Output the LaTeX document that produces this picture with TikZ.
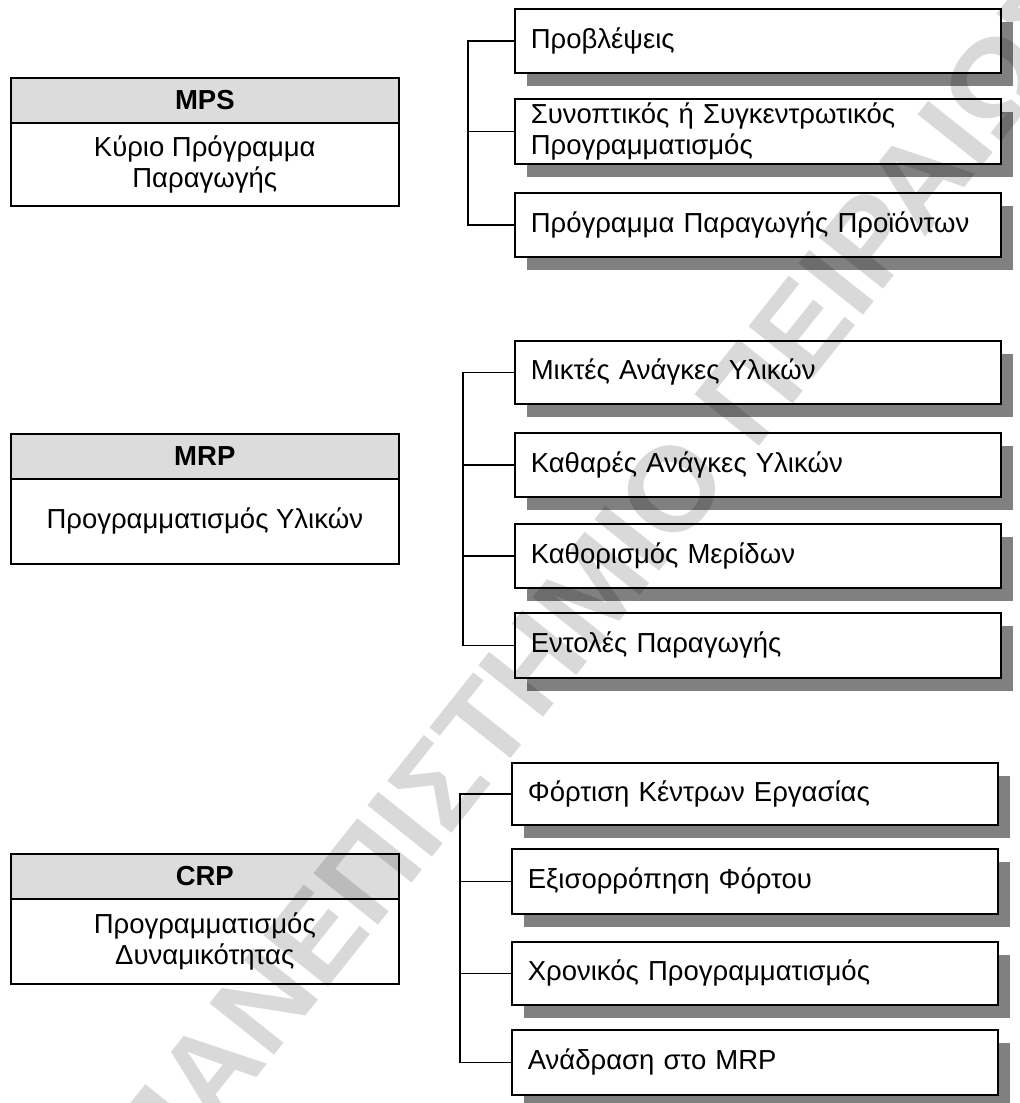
\documentclass[tikz,border=0pt]{standalone}
\usepackage{fontspec}
\setmainfont{Liberation Sans}
\usetikzlibrary{shadows}
\definecolor{shadowgray}{RGB}{128,128,128}
\definecolor{headgray}{RGB}{220,220,220}
\tikzset{
  x=1pt, y=-1pt,
  every node/.style={font=\fontsize{27.5}{31}\selectfont},
  rbox/.style={draw, line width=1.6pt, fill=white, anchor=north west,
    align=left, text width=454pt, inner xsep=16pt, inner ysep=0pt,
    drop shadow={shadow xshift=12pt, shadow yshift=-13pt,
      fill=shadowgray, opacity=1}},
  headbox/.style={draw, line width=1.6pt, fill=headgray, anchor=north west,
    minimum width=388pt, minimum height=45pt, inner sep=0pt,
    font=\fontsize{27.5}{31}\selectfont\bfseries},
  bodybox/.style={draw, line width=1.6pt, fill=white, anchor=north west,
    minimum width=388pt, inner sep=0pt, align=center},
  link/.style={draw, line width=1.4pt},
  watermark/.style={rotate=51.5, text=black, opacity=0.15,
    font=\fontsize{120}{120}\selectfont\bfseries}
}
\begin{document}
\begin{tikzpicture}
\useasboundingbox (0,0) rectangle (1020,1103);

% --- MPS block ---
\node[headbox] (mpsh) at (10,77) {MPS};
\node[bodybox, minimum height=83pt] (mpsb) at (10,122) {Κύριο Πρόγραμμα\\Παραγωγής};

\node[rbox, minimum height=64pt] (p1) at (514,8) {Προβλέψεις};
\node[rbox, minimum height=65pt] (p2) at (514,98) {Συνοπτικός ή Συγκεντρωτικός\\Προγραμματισμός};
\node[rbox, minimum height=64pt] (p3) at (514,192) {Πρόγραμμα Παραγωγής Προϊόντων};

\coordinate (mpsbus) at (468,0);
\draw[link] (p1.west) -- (p1.west -| mpsbus) -- (p3.west -| mpsbus) -- (p3.west);
\draw[link] (p2.west) -- (p2.west -| mpsbus);

% --- MRP block ---
\node[headbox] (mrph) at (10,433) {MRP};
\node[bodybox, minimum height=85pt] (mrpb) at (10,478) {Προγραμματισμός Υλικών};

\node[rbox, minimum height=63pt] (m1) at (514,340) {Μικτές Ανάγκες Υλικών};
\node[rbox, minimum height=64pt] (m2) at (514,432) {Καθαρές Ανάγκες Υλικών};
\node[rbox, minimum height=64pt] (m3) at (514,523) {Καθορισμός Μερίδων};
\node[rbox, minimum height=65pt] (m4) at (514,612) {Εντολές Παραγωγής};

\coordinate (mrpbus) at (463,0);
\draw[link] (m1.west) -- (m1.west -| mrpbus) -- (m4.west -| mrpbus) -- (m4.west);
\draw[link] (m2.west) -- (m2.west -| mrpbus);
\draw[link] (m3.west) -- (m3.west -| mrpbus);

% --- CRP block ---
\node[headbox] (crph) at (10,853) {CRP};
\node[bodybox, minimum height=85pt] (crpb) at (10,898) {Προγραμματισμός\\Δυναμικότητας};

\node[rbox, minimum height=62pt] (c1) at (511,762) {Φόρτιση Κέντρων Εργασίας};
\node[rbox, minimum height=65pt] (c2) at (511,848) {Εξισορρόπηση Φόρτου};
\node[rbox, minimum height=63pt] (c3) at (511,941) {Χρονικός Προγραμματισμός};
\node[rbox, minimum height=65pt] (c4) at (511,1029) {Ανάδραση στο MRP};

\coordinate (crpbus) at (460,0);
\draw[link] (c1.west) -- (c1.west -| crpbus) -- (c4.west -| crpbus) -- (c4.west);
\draw[link] (c2.west) -- (c2.west -| crpbus);
\draw[link] (c3.west) -- (c3.west -| crpbus);

% --- diagonal watermark ---
\node[watermark] (wm) at (600,580) {ΠΑΝΕΠΙΣΤΗΜΙΟ ΠΕΙΡΑΙΩΣ};
\end{tikzpicture}
\end{document}
